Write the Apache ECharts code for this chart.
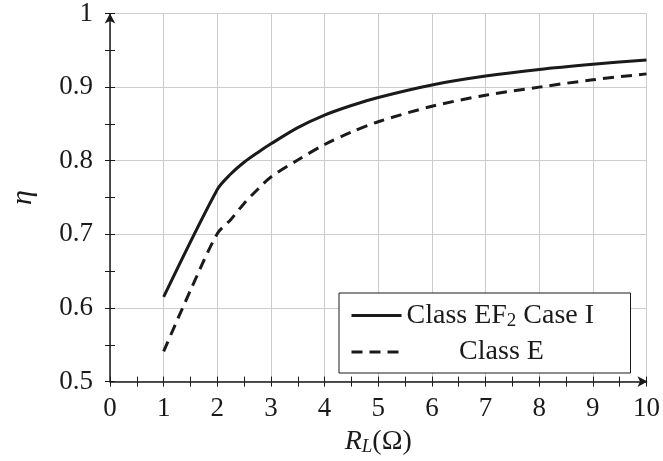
<!DOCTYPE html>
<html>
<head>
<meta charset="utf-8">
<script src="https://cdn.jsdelivr.net/npm/echarts@6/dist/echarts.min.js"></script>
<style>
  html, body { margin: 0; padding: 0; background: #fff; }
  #chart { width: 663px; height: 461px; }
</style>
</head>
<body>
<div id="chart"></div>
<script>
// R_L values (ohm)
const rlEF2 = [1, 2, 2.25, 2.5, 2.75, 3, 3.5, 4, 4.5, 5, 6, 7, 8, 9, 10]
// efficiency, class EF2 case I
const etaEF2 = [0.615, 0.761, 0.782, 0.798, 0.811, 0.823, 0.845, 0.862, 0.875, 0.886, 0.903, 0.915, 0.924, 0.931, 0.937]
const rlE = [1, 1.5, 2, 2.25, 2.5, 2.75, 3, 3.5, 4, 4.5, 5, 6, 7, 8, 9, 10]
// efficiency, class E
const etaE = [0.541, 0.624, 0.701, 0.72, 0.742, 0.761, 0.778, 0.801, 0.822, 0.839, 0.853, 0.874, 0.889, 0.900, 0.910, 0.918]
const seriesNames = ['Class EF2 Case I', 'Class E']

const font = 'Liberation Serif'
const ink = '#1a1a1a'
const gridGray = '#cccccc'

const pairs = (xs, ys) => xs.map((x, i) => [x, ys[i]])

// second axes only carry the inward half of the ticks
const tickAxisBase = {
  splitLine: { show: false },
  axisLabel: { show: false },
  axisLine: { show: false },
  axisTick: { inside: true, length: 5, lineStyle: { color: ink, width: 1 } },
  minorTick: { show: true, splitNumber: 2, length: 5, lineStyle: { color: ink, width: 1 } }
}

const myChart = echarts.init(document.getElementById('chart'))
myChart.setOption({
  animation: false,
  backgroundColor: '#fff',
  grid: { left: 102, right: 16.5, top: 13, bottom: 73.3 },
  legend: {
    orient: 'vertical',
    left: 339,
    top: 293,
    padding: [7, 34, 7, 11],
    itemGap: 7,
    itemWidth: 50,
    itemHeight: 14,
    itemStyle: { opacity: 0 },
    lineStyle: { width: 3 },
    backgroundColor: '#fff',
    borderColor: ink,
    borderWidth: 1,
    borderRadius: 0,
    textStyle: {
      fontFamily: font,
      fontSize: 28,
      color: ink,
      rich: {
        t: { fontFamily: font, fontSize: 28, lineHeight: 30, color: ink },
        sub: { fontFamily: font, fontSize: 19, lineHeight: 18, padding: [12, 0, 0, 0], color: ink },
        c: { fontFamily: font, fontSize: 28, lineHeight: 30, color: ink, width: 190, align: 'center' }
      }
    },
    formatter: (name) => {
      if (name === seriesNames[0]) return '{t|Class EF}{sub|2}{t| Case I}'
      return '{c|Class E}'
    },
    data: seriesNames
  },
  xAxis: [{
    type: 'value',
    min: 0,
    max: 10,
    interval: 1,
    name: '{i|R}{s|L}{n|(Ω)}',
    nameLocation: 'middle',
    nameGap: 40,
    nameTextStyle: {
      rich: {
        i: { fontFamily: font, fontSize: 28, fontStyle: 'italic', color: ink },
        s: { fontFamily: font, fontSize: 19, fontStyle: 'italic', color: ink, padding: [10, 0, 0, 0] },
        n: { fontFamily: font, fontSize: 28, color: ink }
      }
    },
    axisLine: { show: true, onZero: false, symbol: ['none', 'arrow'], symbolSize: [8, 10], symbolOffset: [0, 1], lineStyle: { color: ink, width: 1.5 } },
    axisTick: { show: true, length: 5, lineStyle: { color: ink, width: 1 } },
    minorTick: { show: true, splitNumber: 2, length: 5, lineStyle: { color: ink, width: 1 } },
    axisLabel: { fontFamily: font, fontSize: 27, color: ink, margin: 14 },
    splitLine: { show: true, lineStyle: { color: gridGray, width: 1 } }
  }, Object.assign({ type: 'value', min: 0, max: 10, interval: 1, position: 'bottom' }, tickAxisBase)],
  yAxis: [{
    type: 'value',
    min: 0.5,
    max: 1,
    interval: 0.1,
    name: 'η',
    nameLocation: 'middle',
    nameGap: 72,
    nameTextStyle: { fontFamily: font, fontSize: 30, fontStyle: 'italic', color: ink },
    axisLine: { show: true, onZero: false, symbol: ['none', 'arrow'], symbolSize: [8, 10], lineStyle: { color: ink, width: 1.5 } },
    axisTick: { show: true, length: 5, lineStyle: { color: ink, width: 1 } },
    minorTick: { show: true, splitNumber: 2, length: 5, lineStyle: { color: ink, width: 1 } },
    axisLabel: {
      fontFamily: font, fontSize: 27, color: ink, margin: 17,
      formatter: (v) => String(parseFloat(v.toFixed(2)))
    },
    splitLine: { show: true, lineStyle: { color: gridGray, width: 1 } }
  }, Object.assign({ type: 'value', min: 0.5, max: 1, interval: 0.1, position: 'left' }, tickAxisBase)],
  series: [{
    name: seriesNames[0],
    type: 'line',
    data: pairs(rlEF2, etaEF2),
    symbol: 'none',
    smooth: 0.3,
    lineStyle: { color: ink, width: 3 },
    itemStyle: { color: ink },
    z: 3
  }, {
    name: seriesNames[1],
    type: 'line',
    data: pairs(rlE, etaE),
    symbol: 'none',
    smooth: 0.3,
    lineStyle: { color: ink, width: 3, type: [11, 7] },
    itemStyle: { color: ink },
    z: 3
  }]
})
</script>
</body>
</html>
